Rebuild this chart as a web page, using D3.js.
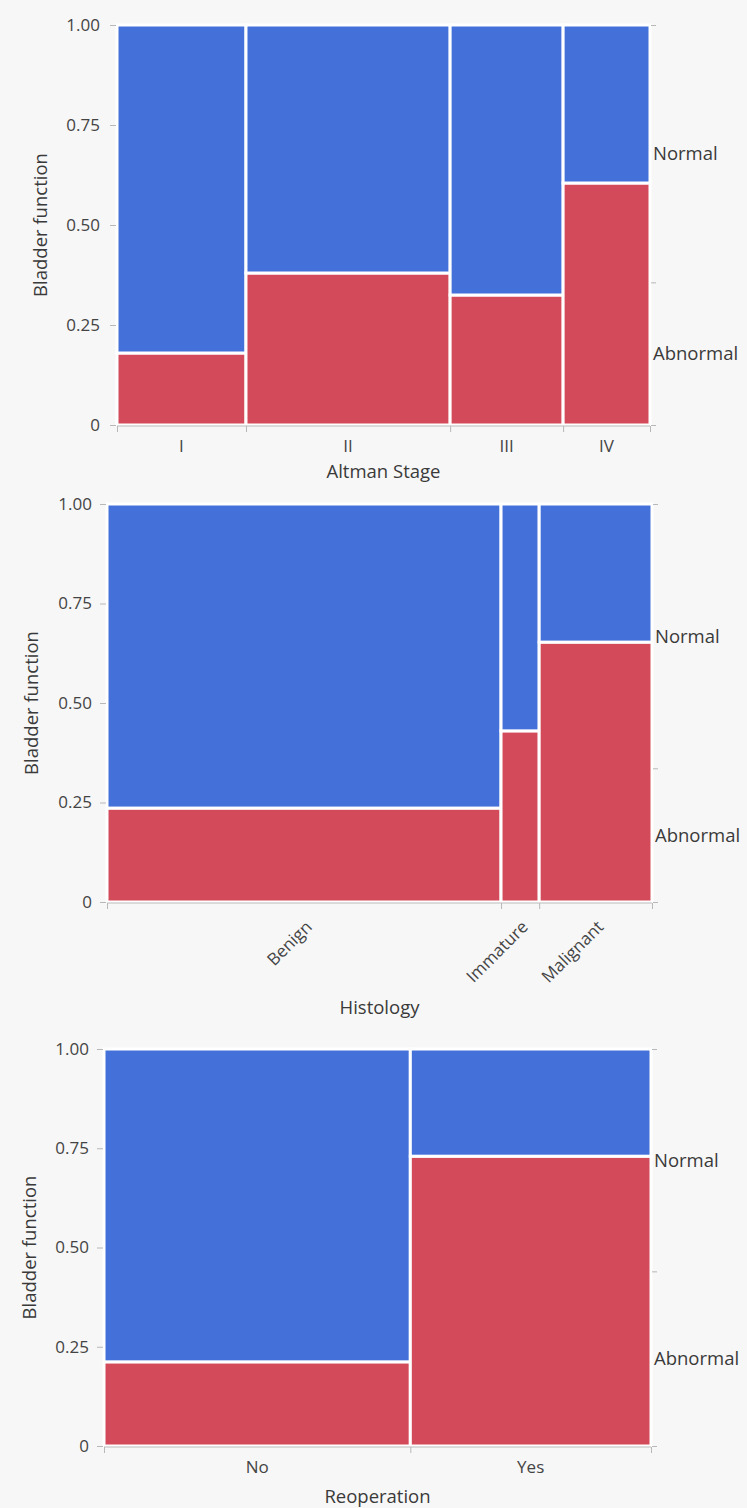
<!DOCTYPE html>
<html lang="en">
<head>
<meta charset="UTF-8">
<title>Bladder function mosaic plots</title>
<script src="https://d3js.org/d3.v7.min.js"></script>
<style>
    body {
        margin: 0;
        background: #f7f7f7;
        font-family: "Open Sans", "Noto Sans", sans-serif;
    }
    .axis path, .axis line {
        stroke: #b8b8b8;
        stroke-width: 1px;
    }
    .axis text {
        font-size: 17px;
        fill: #444;
        font-family: "Open Sans", "Noto Sans", sans-serif;
    }
    .axis text.level {
        font-size: 18.5px;
        fill: #3a3a3a;
    }
    .title {
        font-size: 18.5px;
        fill: #3a3a3a;
    }
</style>
</head>
<body>
<svg id="chart" width="747" height="1508"></svg>
<script>
// response levels (bottom to top)
const levels = ["Abnormal", "Normal"];
const yTicks = [0, 0.25, 0.5, 0.75, 1];

// Altman stage
const stageLabels = ["I", "II", "III", "IV"];
const stageShare = [0.242, 0.383, 0.212, 0.163];
const stageAbnormal = [0.18, 0.38, 0.325, 0.605];

// Histology
const histLabels = ["Benign", "Immature", "Malignant"];
const histShare = [0.723, 0.070, 0.207];
const histAbnormal = [0.236, 0.43, 0.653];

// Reoperation
const reopLabels = ["No", "Yes"];
const reopShare = [0.56, 0.44];
const reopAbnormal = [0.212, 0.73];

const colors = {Abnormal: "#d34a5a", Normal: "#4370d9"};

const svg = d3.select("#chart");

function mosaic(opt) {
    const x = d3.scaleLinear().domain([0, 1]).range([opt.left, opt.right]);
    const y = d3.scaleLinear().domain([0, 1]).range([opt.bottom, opt.top]);
    const g = svg.append("g");

    // cumulative column edges
    const edges = [0];
    opt.share.forEach((s, i) => edges.push(edges[i] + s));
    edges[edges.length - 1] = 1;

    const cells = [];
    opt.labels.forEach((lab, i) => {
        const a = opt.abnormal[i];
        cells.push({x0: edges[i], x1: edges[i + 1], y0: 0, y1: a, level: levels[0]});
        cells.push({x0: edges[i], x1: edges[i + 1], y0: a, y1: 1, level: levels[1]});
    });

    g.selectAll("rect.cell")
        .data(cells)
        .enter()
        .append("rect")
        .attr("class", "cell")
        .attr("x", d => x(d.x0))
        .attr("y", d => y(d.y1))
        .attr("width", d => x(d.x1) - x(d.x0))
        .attr("height", d => y(d.y0) - y(d.y1))
        .attr("fill", d => colors[d.level])
        .attr("stroke", "#fff")
        .attr("stroke-width", 3);

    // left axis
    g.append("g")
        .attr("class", "axis")
        .attr("transform", `translate(${opt.left - 1},0)`)
        .call(d3.axisLeft(y).tickValues(yTicks).tickSize(6).tickPadding(opt.pad)
            .tickFormat(d => d === 0 ? "0" : d3.format(".2f")(d)))
        .call(a => a.select(".domain").remove());

    // bottom axis with ticks at column edges
    const xb = g.append("g")
        .attr("class", "axis")
        .attr("transform", `translate(0,${opt.bottom + 1})`)
        .call(d3.axisBottom(x).tickValues(edges).tickSize(6).tickFormat(""));
    xb.select(".domain").attr("d", `M${opt.left},0H${opt.right}`);

    // column labels
    const mids = opt.labels.map((l, i) => (edges[i] + edges[i + 1]) / 2);
    const lab = g.append("g").attr("class", "axis");
    if (opt.rotate) {
        lab.selectAll("text")
            .data(opt.labels)
            .enter()
            .append("text")
            .attr("transform", (d, i) => `translate(${x(mids[i]) + 9},${opt.bottom + 26}) rotate(-45)`)
            .attr("text-anchor", "end")
            .text(d => d);
    } else {
        lab.selectAll("text")
            .data(opt.labels)
            .enter()
            .append("text")
            .attr("x", (d, i) => x(mids[i]))
            .attr("y", opt.bottom + 27)
            .attr("text-anchor", "middle")
            .text(d => d);
    }

    // right axis: marginal split
    const overall = d3.sum(opt.share, (s, i) => s * opt.abnormal[i]);
    const yr = g.append("g")
        .attr("class", "axis")
        .attr("transform", `translate(${opt.right + 1},0)`)
        .call(d3.axisRight(y).tickValues([0, overall, 1]).tickSize(5).tickFormat(""));
    yr.select(".domain").remove();

    const marg = [
        {level: levels[0], v: overall / 2},
        {level: levels[1], v: (overall + 1) / 2}
    ];
    g.append("g")
        .attr("class", "axis")
        .selectAll("text")
        .data(marg)
        .enter()
        .append("text")
        .attr("class", "level")
        .attr("x", opt.right + 3)
        .attr("y", d => y(d.v))
        .attr("dy", "0.35em")
        .text(d => d.level);

    // titles
    g.append("text")
        .attr("class", "title")
        .attr("x", (opt.left + opt.right) / 2)
        .attr("y", opt.xTitleY)
        .attr("text-anchor", "middle")
        .text(opt.xTitle);

    g.append("text")
        .attr("class", "title")
        .attr("transform", `translate(${opt.yTitleX},${(opt.top + opt.bottom) / 2}) rotate(-90)`)
        .attr("text-anchor", "middle")
        .text("Bladder function");
}

mosaic({
    labels: stageLabels, share: stageShare, abnormal: stageAbnormal,
    left: 117, right: 650, top: 25, bottom: 425, pad: 10,
    xTitle: "Altman Stage", xTitleY: 478, yTitleX: 47
});

mosaic({
    labels: histLabels, share: histShare, abnormal: histAbnormal, rotate: true,
    left: 107, right: 652, top: 504, bottom: 902, pad: 8,
    xTitle: "Histology", xTitleY: 1014, yTitleX: 38
});

mosaic({
    labels: reopLabels, share: reopShare, abnormal: reopAbnormal,
    left: 104, right: 651, top: 1049, bottom: 1446, pad: 8,
    xTitle: "Reoperation", xTitleY: 1503, yTitleX: 36
});
</script>
</body>
</html>
